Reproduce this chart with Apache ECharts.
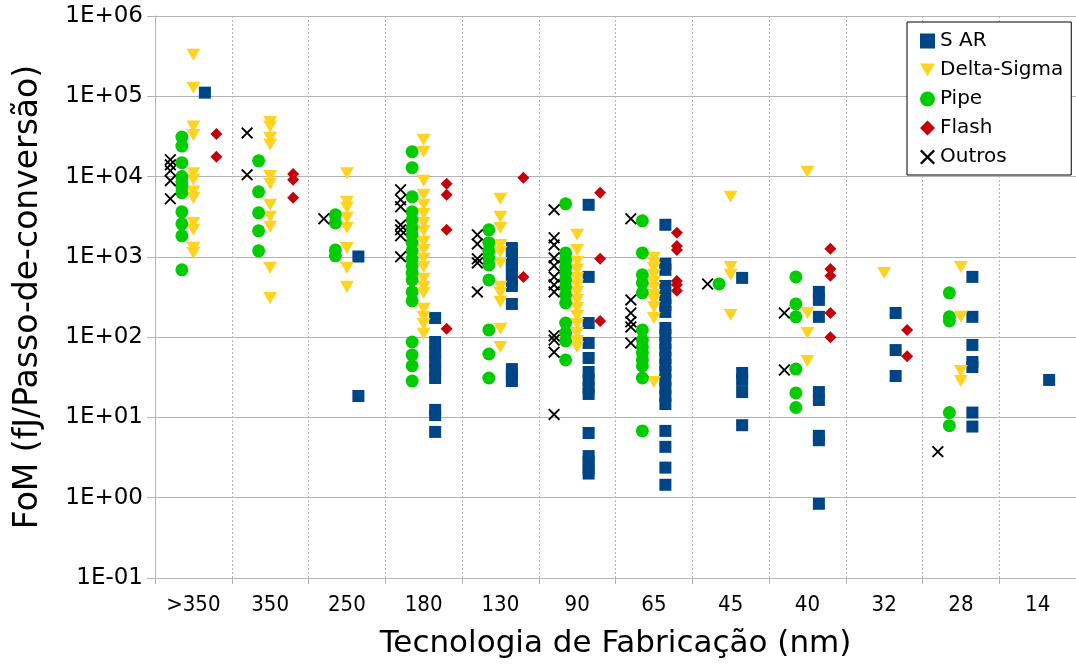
<!DOCTYPE html>
<html><head><meta charset="utf-8">
<script src="https://cdn.jsdelivr.net/npm/echarts@6/dist/echarts.min.js"></script>
<style>html,body{margin:0;padding:0;background:#fff}#c{width:1076px;height:664px}</style>
</head><body><div id="c"></div>
<script>
const categories = ['>350','350','250','180','130','90','65','45','40','32','28','14'];

// values per category (same order as categories)
const sarValues = [
  [111000],
  [],
  [1010, 18.5],
  [173, 87, 65, 50, 39, 31, 12.4, 10.7, 6.6],
  [1290, 1090, 917, 773, 631, 516, 434, 259, 40, 33.8, 28.4],
  [4450, 563, 150, 84.7, 55, 36.8, 29.3, 23.3, 19.6, 6.4, 3.3, 2.8, 2.3, 2.0],
  [2510, 818, 689, 434, 308, 252, 206, 130, 106, 84.7, 69, 55, 45, 36.8, 29.3, 23.3, 18.5, 14.7, 6.8, 4.3, 2.37, 1.45],
  [547, 35.8, 29.3, 20.7, 8.0],
  [366, 291, 179, 20.7, 16.5, 5.9, 5.2, 0.84],
  [200, 69, 32.8],
  [563, 179, 80, 49, 42.5, 11.5, 7.7],
  [29.3]
];
const deltaSigmaValues = [
  [330000, 128000, 42000, 33000, 11000, 9100, 6500, 5400, 2650, 2170, 1300, 1120],
  [48000, 42000, 30500, 25000, 10200, 8130, 4450, 3150, 2370, 730, 308],
  [11000, 4850, 4080, 3060, 2300, 1290, 730, 423],
  [28800, 20400, 8870, 5930, 4450, 3440, 2650, 2110, 1540, 1220, 944, 750, 532, 423, 356, 225, 179, 146, 110],
  [5290, 3150, 2300, 1410, 1150, 841, 423, 356, 275, 127, 75.5],
  [1880, 1220, 866, 689, 547, 448, 366, 291, 231, 184, 146, 113, 89.7, 75.5],
  [972, 841, 730, 597, 488, 410, 336, 291, 238, 173, 27.6],
  [5600, 750, 597, 189],
  [11500, 200, 113, 50.5],
  [631],
  [750, 179, 37.9, 28.4],
  []
];
const pipeValues = [
  [31000, 24000, 14900, 10000, 8600, 7500, 6300, 3640, 2580, 1830, 690],
  [15700, 6460, 3540, 2110, 1190],
  [3340, 2650, 1220, 1030],
  [20400, 12900, 5600, 3640, 2890, 2300, 1880, 1500, 1190, 944, 773, 631, 516, 366, 283, 87, 60, 44, 28.4],
  [2170, 1500, 1190, 970, 794, 516, 123, 61.7, 31],
  [4580, 1120, 917, 750, 631, 516, 423, 336, 267, 150, 113, 89.7, 52],
  [2810, 1120, 597, 474, 356, 123, 92, 75.5, 63.5, 52, 43.8, 31, 6.8],
  [460],
  [563, 259, 179, 40, 20.2, 13.3],
  [],
  [356, 179, 159, 11.5, 7.9],
  []
];
const flashValues = [
  [34000, 17700],
  [10800, 9100, 5450],
  [],
  [8130, 5930, 2170, 127],
  [9660, 563],
  [6280, 944, 159],
  [1990, 1370, 1220, 502, 448, 377],
  [],
  [1260, 708, 580, 200, 100],
  [123, 58],
  [],
  []
];
const outrosValues = [
  [16200, 14000, 11800, 8900, 5300],
  [35000, 10500],
  [2980],
  [6840, 5140, 4200, 2500, 2170, 1830, 1000],
  [1880, 1450, 944, 841, 366],
  [3850, 1730, 1410, 972, 773, 563, 448, 366, 104, 92, 65, 10.9],
  [2980, 291, 200, 155, 134, 84.7],
  [460],
  [200, 39],
  [],
  [3.75],
  []
];

function build(vals, off) {
  const out = [];
  vals.forEach((list, i) => list.forEach(v => out.push([i + off, v])));
  return out;
}
const X_PATH = 'path://M0,1.3L1.3,0L6,4.7L10.7,0L12,1.3L7.3,6L12,10.7L10.7,12L6,7.3L1.3,12L0,10.7L4.7,6Z';
const TRI_DOWN = 'path://M0,0L14,0L7,12Z';
const GRID_C = '#b3b3b3';
const FONT = 'DejaVu Sans';

const chart = echarts.init(document.getElementById('c'), null, {renderer: 'canvas'});
const option = {
  animation: false,
  backgroundColor: '#fff',
  grid: {left: 155, top: 16, width: 924, height: 562},
  legend: {
    orient: 'vertical', left: 907, top: 22,
    padding: [9, 8, 8, 13], itemGap: 9, itemWidth: 15, itemHeight: 15,
    borderColor: '#000', borderWidth: 1, backgroundColor: '#fff',
    textStyle: {fontFamily: FONT, fontSize: 20, color: '#000'},
    data: [
      {name: 'S AR'},
      {name: 'Delta-Sigma', icon: TRI_DOWN},
      {name: 'Pipe'},
      {name: 'Flash'},
      {name: 'Outros'}
    ]
  },
  xAxis: [{
    type: 'category', data: categories, boundaryGap: true,
    axisLine: {lineStyle: {color: GRID_C}},
    axisTick: {show: true, length: 6, interval: 0, lineStyle: {color: GRID_C}},
    axisLabel: {interval: 0, margin: 16, color: '#000', fontSize: 22,
      fontFamily: "'DejaVu Sans Condensed', 'Liberation Sans Narrow', sans-serif"},
    splitLine: {show: true, interval: 0, lineStyle: {color: GRID_C, type: [2, 2]}},
    name: 'Tecnologia de Fabricação (nm)', nameLocation: 'middle', nameGap: 50,
    nameTextStyle: {fontFamily: FONT, fontSize: 31, color: '#000'}
  }, {
    type: 'value', min: -0.5, max: 11.5, show: false
  }],
  yAxis: {
    type: 'log', logBase: 10, min: 0.1, max: 1000000,
    axisLine: {show: true, onZero: false, lineStyle: {color: GRID_C}},
    axisTick: {show: true, length: 8, lineStyle: {color: GRID_C}},
    minorTick: {show: false},
    splitLine: {show: true, lineStyle: {color: GRID_C, type: 'solid'}},
    axisLabel: {
      margin: 12, color: '#000', fontSize: 23, fontFamily: FONT,
      formatter: v => {
        const e = Math.round(Math.log10(v));
        return '1E' + (e < 0 ? '-' : '+') + String(Math.abs(e)).padStart(2, '0');
      }
    },
    name: 'FoM (fJ/Passo-de-conversão)', nameLocation: 'middle', nameGap: 110, nameRotate: 90,
    nameTextStyle: {fontFamily: FONT, fontSize: 33, color: '#000'}
  },
  series: [
    {name: 'S AR', type: 'scatter', xAxisIndex: 1, symbol: 'rect', symbolSize: 12,
      itemStyle: {color: '#004586', opacity: 1}, data: build(sarValues, 0.15)},
    {name: 'Delta-Sigma', type: 'scatter', xAxisIndex: 1, symbol: 'triangle', symbolRotate: 180, symbolSize: [14, 12],
      itemStyle: {color: '#ffd320', opacity: 1}, data: build(deltaSigmaValues, 0)},
    {name: 'Pipe', type: 'scatter', xAxisIndex: 1, symbol: 'circle', symbolSize: 13,
      itemStyle: {color: '#00cc00', opacity: 1}, data: build(pipeValues, -0.15)},
    {name: 'Flash', type: 'scatter', xAxisIndex: 1, symbol: 'diamond', symbolSize: 12,
      itemStyle: {color: '#c5000b', opacity: 1}, data: build(flashValues, 0.3)},
    {name: 'Outros', type: 'scatter', xAxisIndex: 1, symbol: X_PATH, symbolSize: 12,
      itemStyle: {color: '#000', opacity: 1}, data: build(outrosValues, -0.3)}
  ]
};
chart.setOption(option);
</script>
</body></html>
